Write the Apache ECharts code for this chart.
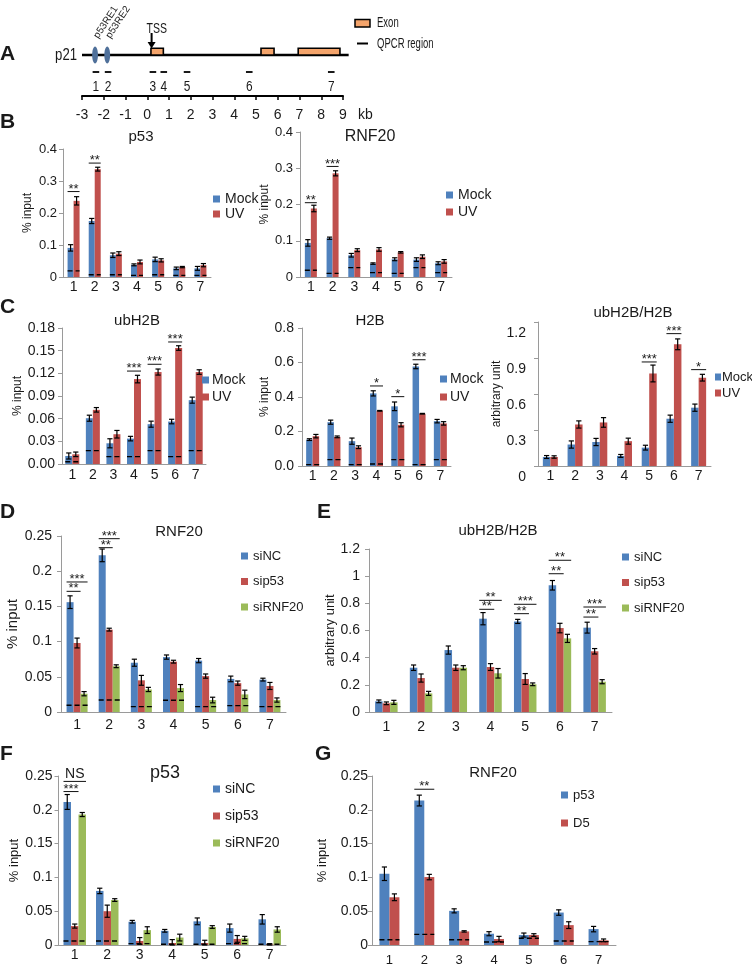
<!DOCTYPE html>
<html><head><meta charset="utf-8">
<script src="https://cdn.jsdelivr.net/npm/echarts@6/dist/echarts.min.js"></script>
<style>html,body{margin:0;padding:0;background:#fff}#c{width:752px;height:967px}</style>
</head><body><div id="c"></div>
<script>
// ================= DATA =================
const categories = ['1', '2', '3', '4', '5', '6', '7'];

// Panel A: p21 locus (positions in kb)
const geneSpan = [-3, 9.26];
const exonStarts = [0.17, 5.23, 6.94];
const exonEnds = [0.74, 5.83, 8.86];
const p53reSites = [-2.4, -1.84];
const p53reLabels = ['p53RE1', 'p53RE2'];
const tssPos = [0.2];
const qpcrPos = [-2.36, -1.80, 0.26, 0.76, 1.83, 4.69, 8.46];
const qpcrLabels = ['1', '2', '3', '4', '5', '6', '7'];

// Panel B left: p53 ChIP
const mockB1 = [0.091, 0.175, 0.068, 0.038, 0.055, 0.027, 0.027];
const mockB1Err = [0.010, 0.008, 0.007, 0.003, 0.007, 0.004, 0.006];
const uvB1 = [0.238, 0.337, 0.073, 0.047, 0.052, 0.031, 0.037];
const uvB1Err = [0.013, 0.006, 0.006, 0.006, 0.005, 0.002, 0.005];
const igB1 = [0.019, 0.007, 0.007, 0.005, 0.007, 0.005, 0.005];
const sigB1 = [[0, 0.267, '**'], [1, 0.356, '**']];

// Panel B right: RNF20 ChIP
const mockB2 = [0.094, 0.107, 0.060, 0.037, 0.049, 0.048, 0.038];
const mockB2Err = [0.009, 0.003, 0.005, 0.002, 0.004, 0.005, 0.004];
const uvB2 = [0.189, 0.286, 0.074, 0.076, 0.068, 0.056, 0.043];
const uvB2Err = [0.009, 0.007, 0.004, 0.005, 0.002, 0.005, 0.005];
const igB2 = [0.0185, 0.010, 0.026, 0.012, 0.010, 0.026, 0.012];
const sigB2 = [[0, 0.205, '**'], [1, 0.305, '***']];

// Panel C left: ubH2B
const mockC1 = [0.0106, 0.0606, 0.0274, 0.0336, 0.0527, 0.0562, 0.0845];
const mockC1Err = [0.004, 0.004, 0.006, 0.003, 0.004, 0.003, 0.004];
const uvC1 = [0.0128, 0.0717, 0.0394, 0.1124, 0.1217, 0.1535, 0.1217];
const uvC1Err = [0.003, 0.003, 0.005, 0.005, 0.004, 0.003, 0.003];
const igC1 = [0.003, 0.0177, 0.0097, 0.0097, 0.0177, 0.0097, 0.0177];
const sigC1 = [[3, 0.123, '***'], [4, 0.132, '***'], [5, 0.1615, '***']];

// Panel C middle: H2B
const mockC2 = [0.153, 0.254, 0.144, 0.421, 0.346, 0.577, 0.260];
const mockC2Err = [0.005, 0.012, 0.018, 0.015, 0.025, 0.013, 0.010];
const uvC2 = [0.173, 0.169, 0.109, 0.320, 0.239, 0.303, 0.247];
const uvC2Err = [0.010, 0.005, 0.008, 0.002, 0.012, 0.002, 0.010];
const igC2 = [0.008, 0.037, 0.008, 0.012, 0.037, 0.008, 0.037];
const sigC2 = [[3, 0.464, '*'], [4, 0.402, '*'], [5, 0.616, '***']];

// Panel C right: ubH2B/H2B
const mockC3 = [0.075, 0.179, 0.200, 0.084, 0.153, 0.394, 0.486];
const mockC3Err = [0.012, 0.030, 0.030, 0.012, 0.020, 0.030, 0.030];
const uvC3 = [0.075, 0.346, 0.363, 0.207, 0.771, 1.014, 0.736];
const uvC3Err = [0.010, 0.030, 0.040, 0.025, 0.070, 0.045, 0.028];
const sigC3 = [[4, 0.867, '***'], [5, 1.103, '***'], [6, 0.803, '*']];

// Panel D: RNF20 ChIP, siRNA
const siNCD = [0.156, 0.2225, 0.070, 0.078, 0.073, 0.047, 0.046];
const siNCDErr = [0.009, 0.009, 0.005, 0.003, 0.003, 0.004, 0.002];
const sip53D = [0.098, 0.117, 0.045, 0.0715, 0.051, 0.041, 0.037];
const sip53DErr = [0.007, 0.002, 0.007, 0.002, 0.003, 0.003, 0.005];
const siRNF20D = [0.026, 0.065, 0.032, 0.034, 0.017, 0.025, 0.017];
const siRNF20DErr = [0.003, 0.002, 0.003, 0.005, 0.004, 0.006, 0.003];
const igD = [0.0095, 0.017, 0.0076, 0.0166, 0.0076, 0.009, 0.0076];
const sigD = [[0, 0.1847, '***', 0, 2], [0, 0.1714, '**', 0, 1], [1, 0.2462, '***', 0, 2], [1, 0.2334, '**', 0, 1]];

// Panel E: ubH2B/H2B, siRNA
const siNCE = [0.0785, 0.326, 0.456, 0.687, 0.667, 0.933, 0.621];
const siNCEErr = [0.010, 0.020, 0.030, 0.045, 0.015, 0.035, 0.040];
const sip53E = [0.064, 0.250, 0.326, 0.331, 0.243, 0.618, 0.447];
const sip53EErr = [0.010, 0.030, 0.020, 0.025, 0.040, 0.035, 0.020];
const siRNF20E = [0.071, 0.137, 0.326, 0.285, 0.204, 0.542, 0.223];
const siRNF20EErr = [0.015, 0.015, 0.015, 0.035, 0.010, 0.030, 0.015];
const sigE = [[3, 0.822, '**', 0, 2], [3, 0.756, '**', 0, 1], [4, 0.793, '***', 0, 2], [4, 0.724, '**', 0, 1],
              [5, 1.117, '**', 0, 2], [5, 1.018, '**', 0, 1], [6, 0.773, '***', 0, 2], [6, 0.699, '**', 0, 1]];

// Panel F: p53 ChIP, siRNA
const siNCF = [0.2116, 0.080, 0.0344, 0.021, 0.035, 0.025, 0.038];
const siNCFErr = [0.011, 0.004, 0.002, 0.002, 0.005, 0.006, 0.007];
const sip53F = [0.028, 0.050, 0.006, 0.003, 0.003, 0.009, 0.001];
const sip53FErr = [0.003, 0.009, 0.005, 0.005, 0.004, 0.005, 0.001];
const siRNF20F = [0.193, 0.0665, 0.022, 0.011, 0.0266, 0.0098, 0.023];
const siRNF20FErr = [0.003, 0.002, 0.005, 0.005, 0.002, 0.003, 0.004];
const igF = [0.006, 0.006, 0.002, 0.001, 0.001, 0.002, 0.001];
const sigF = [[0, 0.242, 'NS', 0, 2], [0, 0.227, '***', 0, 1]];

// Panel G: RNF20 ChIP, p53 vs D5
const p53G = [0.1054, 0.2137, 0.0505, 0.0167, 0.0147, 0.048, 0.0235];
const p53GErr = [0.010, 0.008, 0.003, 0.003, 0.003, 0.004, 0.004];
const d5G = [0.0706, 0.1005, 0.0201, 0.0088, 0.0147, 0.0294, 0.0069];
const d5GErr = [0.005, 0.004, 0.001, 0.004, 0.002, 0.005, 0.002];
const igG = [0.0078, 0.0157, 0.0078, 0.0044, 0.010, 0.006, 0.005];
const sigG = [[1, 0.2304, '**', 0, 1]];

// ================= STYLE =================
const FONT = "'Liberation Sans', Arial, Helvetica, sans-serif";
const TXT = '#1a1a1a';
const AXIS = '#9a9a9a';
const BLUE = '#4F81BD', RED = '#C0504D', GREEN = '#9BBB59';
const EXON = '#F4A46B', RE = '#4F709A';

const option = { animation: false, textStyle: { fontFamily: FONT }, grid: [], xAxis: [], yAxis: [], series: [], legend: [], graphic: [] };

function txt(text, x, y, o) {
  o = o || {};
  const align = o.align || 'center', va = o.va || 'middle';
  const el = { type: 'text', x: x, y: y, rotation: o.rot || 0, silent: true,
    style: { text: text, fontSize: o.size || 14, fontWeight: o.weight || 'normal', fontFamily: FONT,
      fill: o.color || TXT, align: align, verticalAlign: va, textAlign: align, textVerticalAlign: va } };
  if (o.sx) el.scaleX = o.sx;
  return el;
}

// ================= PANEL A =================
(function () {
  const gi = option.grid.length;
  option.grid.push({ left: 82, top: 20, width: 261, height: 76 });
  option.xAxis.push({ type: 'value', gridIndex: gi, min: -3, max: 9, interval: 1,
    axisLine: { lineStyle: { color: '#000', width: 2 } },
    axisTick: { length: 4, lineStyle: { color: '#000', width: 1.5 } },
    splitLine: { show: false },
    axisLabel: { margin: 12, fontSize: 14, fontFamily: FONT, color: TXT },
    name: 'kb', nameLocation: 'end', nameGap: 15,
    nameTextStyle: { fontSize: 14, fontFamily: FONT, color: TXT, verticalAlign: 'top', align: 'left', padding: [12, 0, 0, 0] } });
  option.yAxis.push({ type: 'value', gridIndex: gi, min: 0, max: 1, show: false });
  const base = { type: 'custom', xAxisIndex: gi, yAxisIndex: gi, silent: true };
  // gene body line
  option.series.push(Object.assign({}, base, { name: 'gene', data: [geneSpan], encode: { x: [0, 1] }, z: 2,
    renderItem: function (params, api) {
      const cs = params.coordSys;
      const x1 = api.coord([api.value(0), 0])[0], x2 = api.coord([api.value(1), 0])[0];
      return { type: 'line', shape: { x1: x1, y1: cs.y + 35, x2: x2, y2: cs.y + 35 }, style: { stroke: '#000', lineWidth: 2.7 } };
    } }));
  // exons
  option.series.push(Object.assign({}, base, { name: 'exons', data: exonStarts.map((s, i) => [s, exonEnds[i]]), encode: { x: [0, 1] }, z: 3,
    renderItem: function (params, api) {
      const cs = params.coordSys;
      const x1 = api.coord([api.value(0), 0])[0], x2 = api.coord([api.value(1), 0])[0];
      return { type: 'rect', shape: { x: x1, y: cs.y + 28.3, width: x2 - x1, height: 6.7 }, style: { fill: EXON, stroke: '#000', lineWidth: 1.6 } };
    } }));
  // p53 response elements
  option.series.push(Object.assign({}, base, { name: 'res', data: p53reSites.map(v => [v]), encode: { x: 0 }, z: 4,
    renderItem: function (params, api) {
      const cs = params.coordSys;
      const x = api.coord([api.value(0), 0])[0];
      return { type: 'group', children: [
        { type: 'ellipse', shape: { cx: x, cy: cs.y + 35, rx: 2.9, ry: 8.5 }, style: { fill: RE } },
        txt(p53reLabels[params.dataIndex], x + 1, cs.y + 17.5, { align: 'left', size: 10, rot: 57 * Math.PI / 180 })
      ] };
    } }));
  // TSS arrow
  option.series.push(Object.assign({}, base, { name: 'tss', data: tssPos.map(v => [v]), encode: { x: 0 }, z: 4,
    renderItem: function (params, api) {
      const cs = params.coordSys;
      const x = api.coord([api.value(0), 0])[0];
      return { type: 'group', children: [
        { type: 'line', shape: { x1: x, y1: cs.y + 13, x2: x, y2: cs.y + 23 }, style: { stroke: '#000', lineWidth: 2 } },
        { type: 'polygon', shape: { points: [[x - 4, cs.y + 22], [x + 4, cs.y + 22], [x, cs.y + 28.5]] }, style: { fill: '#000' } },
        txt('TSS', x - 5, cs.y + 9, { align: 'left', size: 14, sx: 0.75 })
      ] };
    } }));
  // qPCR regions
  option.series.push(Object.assign({}, base, { name: 'qpcr', data: qpcrPos.map(v => [v]), encode: { x: 0 }, z: 4,
    renderItem: function (params, api) {
      const cs = params.coordSys;
      const x = api.coord([api.value(0), 0])[0];
      return { type: 'group', children: [
        { type: 'line', shape: { x1: x - 3.3, y1: cs.y + 52, x2: x + 3.3, y2: cs.y + 52 }, style: { stroke: '#000', lineWidth: 1.8 } },
        txt(qpcrLabels[params.dataIndex], x, cs.y + 67, { size: 14, sx: 0.85 })
      ] };
    } }));
  option.graphic.push(
    txt('A', 0, 54, { align: 'left', size: 21, weight: 'bold' }),
    txt('p21', 77, 56, { align: 'right', size: 16, sx: 0.82 }),
    { type: 'rect', silent: true, shape: { x: 355, y: 19.5, width: 15, height: 7.5 }, style: { fill: EXON, stroke: '#000', lineWidth: 1.5 } },
    txt('Exon', 377, 23, { align: 'left', size: 14, sx: 0.68 }),
    { type: 'line', silent: true, shape: { x1: 357, y1: 43.5, x2: 368, y2: 43.5 }, style: { stroke: '#000', lineWidth: 2 } },
    txt('QPCR region', 377, 44, { align: 'left', size: 14, sx: 0.68 })
  );
})();

// ================= BAR PANELS =================
function addBarPanel(p) {
  const gi = option.grid.length;
  const n = p.series.length;
  option.grid.push({ left: p.left, top: p.top, width: p.width, height: p.height });
  option.xAxis.push({ type: 'category', gridIndex: gi, data: categories,
    axisLine: { lineStyle: { color: AXIS, width: 1 } },
    axisTick: { length: 4, lineStyle: { color: AXIS } },
    axisLabel: { margin: p.xMargin, fontSize: p.xFont, color: TXT, fontFamily: FONT, interval: 0 } });
  const yLabel = Object.assign({ margin: p.yMargin, fontSize: p.yFont, color: TXT, fontFamily: FONT }, p.yLabelExtra || {});
  if (p.decimals != null) yLabel.formatter = v => v.toFixed(p.decimals);
  option.yAxis.push({ type: 'value', gridIndex: gi, min: 0, max: p.max, interval: p.interval,
    splitLine: { show: false },
    axisLine: { show: true, lineStyle: { color: AXIS } },
    axisTick: { show: true, length: 4, lineStyle: { color: AXIS } },
    axisLabel: yLabel,
    name: p.yName, nameLocation: 'middle', nameRotate: 90, nameGap: p.nameGap,
    nameTextStyle: { fontSize: p.nameFont, color: TXT, fontFamily: FONT } });
  p.series.forEach(s => option.series.push({ type: 'bar', name: s.name, xAxisIndex: gi, yAxisIndex: gi, data: s.values,
    barWidth: p.barW, barGap: '0%', itemStyle: { color: s.color }, silent: true, z: 2 }));
  // error bars
  const errData = [];
  p.series.forEach((s, i) => s.values.forEach((v, k) => errData.push([k, v, i, s.err[k]])));
  option.series.push({ type: 'custom', name: 'err' + gi, xAxisIndex: gi, yAxisIndex: gi, data: errData, encode: { x: 0, y: 1 }, z: 5, silent: true,
    renderItem: function (params, api) {
      const k = api.value(0), v = api.value(1), i = api.value(2), e = api.value(3);
      const cx = api.coord([k, v])[0] + (i - (n - 1) / 2) * p.barW;
      const yt = api.coord([k, v + e])[1], yb = api.coord([k, Math.max(v - e, 0)])[1];
      const c = 2.6, st = { stroke: '#000', lineWidth: 1.2 };
      return { type: 'group', children: [
        { type: 'line', shape: { x1: cx, y1: yt, x2: cx, y2: yb }, style: st },
        { type: 'line', shape: { x1: cx - c, y1: yt, x2: cx + c, y2: yt }, style: st },
        { type: 'line', shape: { x1: cx - c, y1: yb, x2: cx + c, y2: yb }, style: st }
      ] };
    } });
  // background (IgG) dashed levels
  if (p.dash) option.series.push({ type: 'custom', name: 'ig' + gi, xAxisIndex: gi, yAxisIndex: gi, data: p.dash.map((v, k) => [k, v]), encode: { x: 0, y: 1 }, z: 6, silent: true,
    renderItem: function (params, api) {
      const c = api.coord([api.value(0), api.value(1)]);
      const hw = n * p.barW / 2;
      return { type: 'line', shape: { x1: c[0] - hw, y1: c[1], x2: c[0] + hw, y2: c[1] }, style: { stroke: '#000', lineWidth: 1.4, lineDash: [5, 3] } };
    } });
  // significance marks
  if (p.sig) option.series.push({ type: 'custom', name: 'sig' + gi, xAxisIndex: gi, yAxisIndex: gi, data: p.sig.map(s => [s[0], s[1]]), encode: { x: 0, y: 1 }, z: 6, silent: true,
    renderItem: function (params, api) {
      const s = p.sig[params.dataIndex];
      const from = s[3] != null ? s[3] : 0, to = s[4] != null ? s[4] : n - 1;
      const c = api.coord([s[0], s[1]]);
      const x1 = c[0] + (from - (n - 1) / 2) * p.barW - p.barW / 2;
      const x2 = c[0] + (to - (n - 1) / 2) * p.barW + p.barW / 2;
      const word = /[A-Za-z]/.test(s[2]);
      return { type: 'group', children: [
        { type: 'line', shape: { x1: x1, y1: c[1], x2: x2, y2: c[1] }, style: { stroke: '#111', lineWidth: 1 } },
        txt(s[2], (x1 + x2) / 2, c[1] + (word ? 0 : 4), { va: 'bottom', size: word ? 14 : 13 })
      ] };
    } });
  option.legend.push({ orient: 'vertical', left: p.leg.x, top: p.leg.y - p.leg.font / 2, itemWidth: p.leg.iw || 7, itemHeight: 7,
    itemGap: p.leg.gap - p.leg.font, icon: 'rect', padding: 0, selectedMode: false,
    textStyle: { fontSize: p.leg.font, color: TXT, fontFamily: FONT, padding: [0, 0, 0, p.leg.tp || 0] }, data: p.series.map(s => s.name) });
  option.graphic.push(txt(p.title.text, p.title.x, p.title.y, { size: p.title.size }));
  if (p.letter) option.graphic.push(txt(p.letter.text, p.letter.x, p.letter.y, { align: 'left', size: 21, weight: 'bold' }));
}

addBarPanel({ left: 63, top: 149, width: 148, height: 128, max: 0.4, interval: 0.1, yFont: 13, xFont: 14, xMargin: 3, yMargin: 6,
  yName: '% input', nameGap: 29, nameFont: 12, barW: 6,
  series: [{ name: 'Mock', values: mockB1, err: mockB1Err, color: BLUE }, { name: 'UV', values: uvB1, err: uvB1Err, color: RED }],
  dash: igB1, sig: sigB1, leg: { x: 213, y: 199, gap: 15, font: 14 },
  title: { text: 'p53', x: 141, y: 137, size: 15 }, letter: { text: 'B', x: 0, y: 122 } });

addBarPanel({ left: 300, top: 132, width: 152, height: 145, max: 0.4, interval: 0.1, yFont: 13, xFont: 14, xMargin: 3, yMargin: 7,
  yName: '% input', nameGap: 29, nameFont: 12, barW: 6,
  series: [{ name: 'Mock', values: mockB2, err: mockB2Err, color: BLUE }, { name: 'UV', values: uvB2, err: uvB2Err, color: RED }],
  dash: igB2, sig: sigB2, leg: { x: 446, y: 195, gap: 17, font: 14 },
  title: { text: 'RNF20', x: 370, y: 137, size: 16 } });

addBarPanel({ left: 62, top: 328, width: 144, height: 136, max: 0.18, interval: 0.03, decimals: 2, yFont: 14, xFont: 14, xMargin: 4, yMargin: 7,
  yName: '% input', nameGap: 31, nameFont: 12, barW: 7,
  series: [{ name: 'Mock', values: mockC1, err: mockC1Err, color: BLUE }, { name: 'UV', values: uvC1, err: uvC1Err, color: RED }],
  dash: igC1, sig: sigC1, leg: { x: 202, y: 380, gap: 17, font: 14, tp: -2 },
  title: { text: 'ubH2B', x: 137, y: 321, size: 15 }, letter: { text: 'C', x: 0, y: 307 } });

addBarPanel({ left: 302, top: 328, width: 149, height: 138, max: 0.8, interval: 0.2, decimals: 1, yFont: 14, xFont: 14, xMargin: 3, yMargin: 8,
  yName: '% input', nameGap: 31, nameFont: 12, barW: 6.5,
  series: [{ name: 'Mock', values: mockC2, err: mockC2Err, color: BLUE }, { name: 'UV', values: uvC2, err: uvC2Err, color: RED }],
  dash: igC2, sig: sigC2, leg: { x: 440, y: 379, gap: 18, font: 14, tp: -2 },
  title: { text: 'H2B', x: 370, y: 321, size: 15 } });

addBarPanel({ left: 538, top: 322, width: 173, height: 144, max: 1.2, interval: 0.3, yFont: 14, xFont: 14, xMargin: 3, yMargin: 12,
  yLabelExtra: { verticalAlign: 'top', padding: [4, 0, 0, 0] },
  yName: 'arbitrary unit', nameGap: 34, nameFont: 12, barW: 7.5,
  series: [{ name: 'Mock', values: mockC3, err: mockC3Err, color: BLUE }, { name: 'UV', values: uvC3, err: uvC3Err, color: RED }],
  sig: sigC3, leg: { x: 715, y: 377, gap: 16, font: 13, iw: 6, tp: -4 },
  title: { text: 'ubH2B/H2B', x: 633, y: 313, size: 15 } });

addBarPanel({ left: 61, top: 536, width: 225, height: 176, max: 0.25, interval: 0.05, yFont: 14, xFont: 14, xMargin: 6, yMargin: 9,
  yName: '% input', nameGap: 38, nameFont: 15, barW: 7,
  series: [{ name: 'siNC', values: siNCD, err: siNCDErr, color: BLUE }, { name: 'sip53', values: sip53D, err: sip53DErr, color: RED },
           { name: 'siRNF20', values: siRNF20D, err: siRNF20DErr, color: GREEN }],
  dash: igD, sig: sigD, leg: { x: 241, y: 556, gap: 25.5, font: 13 },
  title: { text: 'RNF20', x: 179, y: 532, size: 15 }, letter: { text: 'D', x: 0, y: 512 } });

addBarPanel({ left: 369, top: 549, width: 243, height: 163, max: 1.2, interval: 0.2, yFont: 14, xFont: 14, xMargin: 8, yMargin: 9,
  yName: 'arbitrary unit', nameGap: 30, nameFont: 13, barW: 7.5,
  series: [{ name: 'siNC', values: siNCE, err: siNCEErr, color: BLUE }, { name: 'sip53', values: sip53E, err: sip53EErr, color: RED },
           { name: 'siRNF20', values: siRNF20E, err: siRNF20EErr, color: GREEN }],
  sig: sigE, leg: { x: 622, y: 557, gap: 25.5, font: 13 },
  title: { text: 'ubH2B/H2B', x: 498, y: 531, size: 15 }, letter: { text: 'E', x: 317, y: 512 } });

addBarPanel({ left: 58.5, top: 776, width: 227.5, height: 169, max: 0.25, interval: 0.05, yFont: 14, xFont: 14, xMargin: 3, yMargin: 6,
  yName: '% input', nameGap: 37, nameFont: 13, barW: 7.5,
  series: [{ name: 'siNC', values: siNCF, err: siNCFErr, color: BLUE }, { name: 'sip53', values: sip53F, err: sip53FErr, color: RED },
           { name: 'siRNF20', values: siRNF20F, err: siRNF20FErr, color: GREEN }],
  dash: igF, sig: sigF, leg: { x: 213, y: 789, gap: 27, font: 14 },
  title: { text: 'p53', x: 165, y: 773, size: 18 }, letter: { text: 'F', x: 0, y: 754 } });

addBarPanel({ left: 372, top: 776, width: 244, height: 170, max: 0.25, interval: 0.05, yFont: 14, xFont: 13, xMargin: 9, yMargin: 4,
  yName: '% input', nameGap: 43, nameFont: 13, barW: 10,
  series: [{ name: 'p53', values: p53G, err: p53GErr, color: BLUE }, { name: 'D5', values: d5G, err: d5GErr, color: RED }],
  dash: igG, sig: sigG, leg: { x: 561, y: 795, gap: 28, font: 13 },
  title: { text: 'RNF20', x: 493, y: 773, size: 15 }, letter: { text: 'G', x: 315, y: 754 } });

const chart = echarts.init(document.getElementById('c'), null, { renderer: 'canvas' });
chart.setOption(option);
</script>
</body></html>
